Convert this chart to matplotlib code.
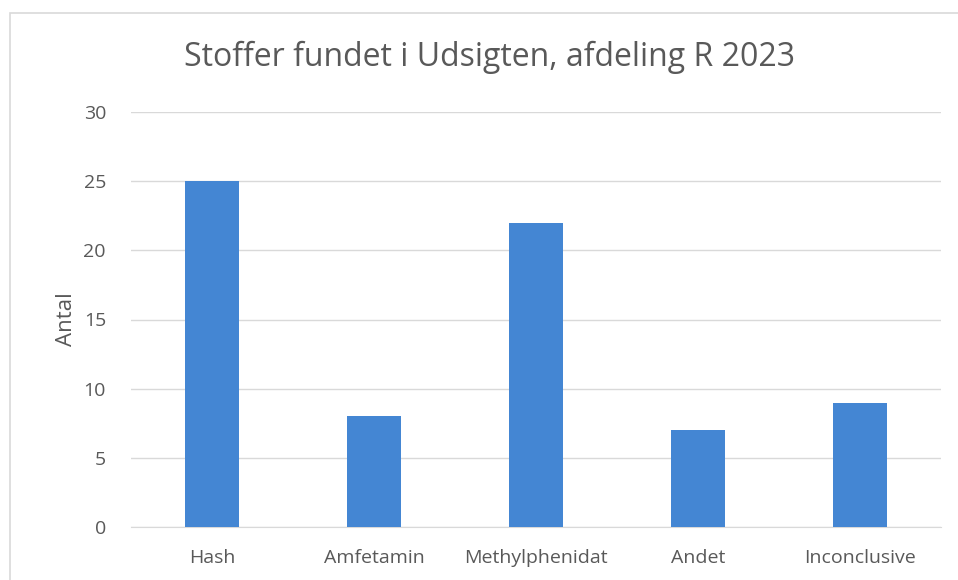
import matplotlib.pyplot as plt
from matplotlib.patches import Rectangle

categories = ["Hash", "Amfetamin", "Methylphenidat", "Andet", "Inconclusive"]
counts = [25, 8, 22, 7, 9]
yticks = [0, 5, 10, 15, 20, 25, 30]

text_color = "#595959"
grid_color = "#d9d9d9"
bar_color = "#4486d3"

plt.rcParams['font.family'] = ['Open Sans', 'DejaVu Sans']

fig = plt.figure(figsize=(9.58, 5.8), dpi=100)

# chart frame (runs off the right and bottom edge)
fig.patches.append(Rectangle((10 / 958, -0.1), 1.0, 1 - 13 / 580 + 0.1,
                             transform=fig.transFigure, fill=False,
                             edgecolor=grid_color, linewidth=1.2))

ax = fig.add_axes([131 / 958, 1 - 527 / 580, 810 / 958, 415 / 580])
x = range(len(categories))
ax.bar(x, counts, width=0.33, color=bar_color, zorder=3)

ax.set_xlim(-0.5, len(categories) - 0.5)
ax.set_ylim(0, 30)
ax.set_yticks(yticks)
ax.set_xticks(list(x))
ax.set_xticklabels(categories)
ax.yaxis.grid(True, color=grid_color, linewidth=1)
ax.set_axisbelow(True)
for s in ["top", "right", "left"]:
    ax.spines[s].set_visible(False)
ax.spines["bottom"].set_color(grid_color)
ax.tick_params(axis="both", length=0, labelsize=14, colors=text_color)
ax.tick_params(axis="y", pad=18)
ax.tick_params(axis="x", pad=16)
ax.set_ylabel("Antal", fontsize=16, color=text_color, labelpad=5)

fig.text(490 / 958, 1 - 57 / 580, "Stoffer fundet i Udsigten, afdeling R 2023",
         ha="center", va="center", fontsize=23, color=text_color)

fig.savefig("out.png", dpi=100)
